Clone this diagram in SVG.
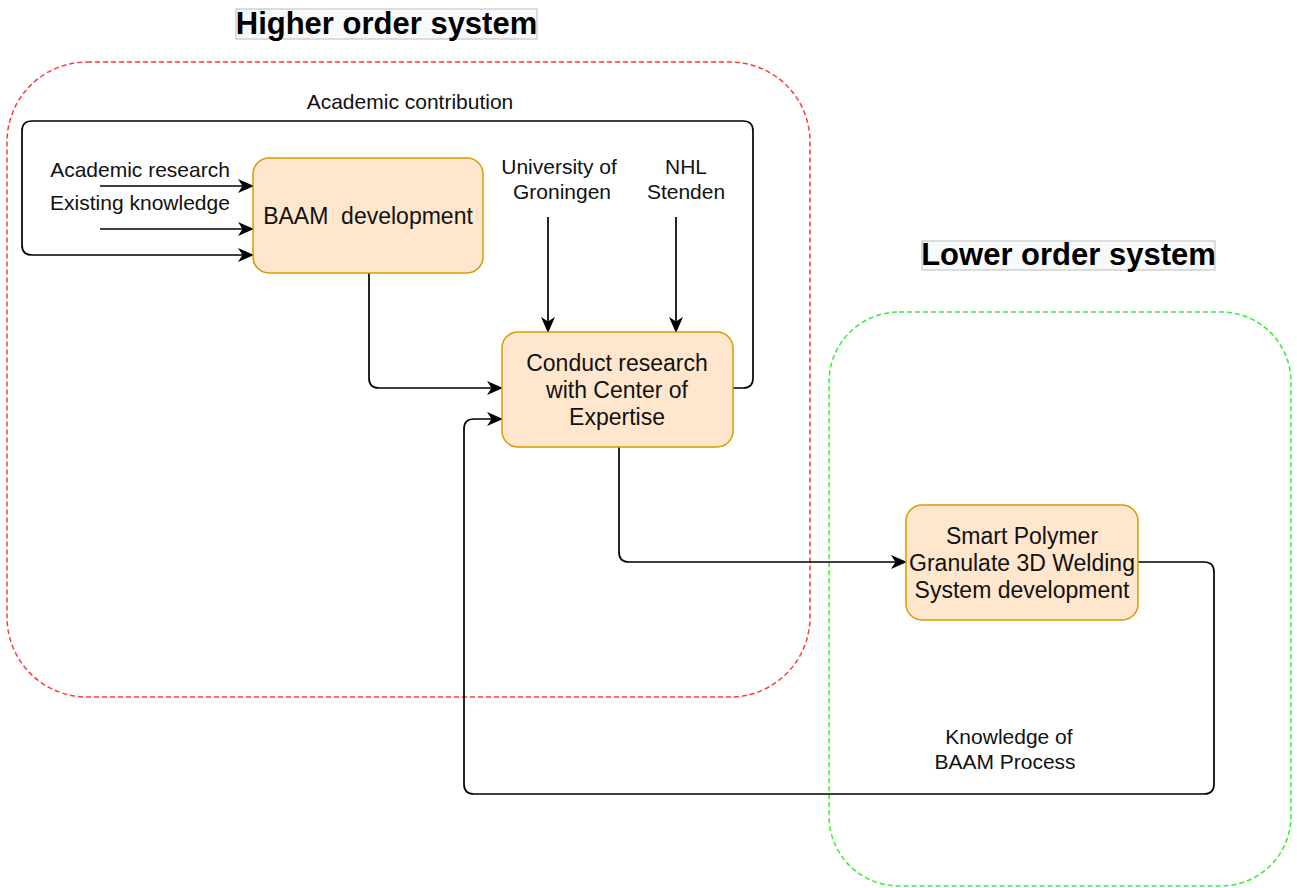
<svg xmlns="http://www.w3.org/2000/svg" width="1297" height="888" viewBox="0 0 1297 888">
  <style>
    .node rect { fill: #ffe6cc; stroke: #d79b00; stroke-width: 1.5; }
    .node text { font-family: "Liberation Sans", Arial, sans-serif; font-size: 23px; fill: #111; text-anchor: middle; }
    .lbl { font-family: "Liberation Sans", Arial, sans-serif; font-size: 21px; fill: #111; text-anchor: middle; }
    .title rect { fill: #f8f9fa; stroke: #bbbbbb; stroke-width: 1; }
    .title text { font-family: "Liberation Sans", Arial, sans-serif; font-size: 31px; font-weight: bold; fill: #000; text-anchor: middle; }
    .edge { fill: none; stroke: #000; stroke-width: 1.7; marker-end: url(#arrow); }
    .boundary { fill: none; stroke-width: 1.5; stroke-dasharray: 5 3; }
  </style>
  <defs>
    <marker id="arrow" viewBox="0 0 16 14" refX="15" refY="7" markerWidth="16" markerHeight="14" markerUnits="userSpaceOnUse" orient="auto">
      <path d="M0,0 L16,7 L0,14 L4.5,7 Z" fill="#000"/>
    </marker>
  </defs>

  <!-- system boundaries -->
  <rect class="boundary" x="7" y="62" width="803" height="635" rx="80" stroke="#ff3b3b"/>
  <rect class="boundary" x="829" y="312" width="462" height="574" rx="70" stroke="#33ee33"/>

  <!-- system titles -->
  <g id="title-higher" class="title">
    <rect x="236" y="9" width="301" height="30"/>
    <text x="386.5" y="34">Higher order system</text>
  </g>
  <g id="title-lower" class="title">
    <rect x="922" y="241" width="293" height="29"/>
    <text x="1068.5" y="265">Lower order system</text>
  </g>

  <!-- connectors -->
  <g id="connectors">
    <path class="edge" d="M733,388 H743 Q753,388 753,378 V131 Q753,121 743,121 H32 Q22,121 22,131 V245 Q22,255 32,255 H253"/>
    <path class="edge" d="M100,186 H253"/>
    <path class="edge" d="M100,229 H253"/>
    <path class="edge" d="M369,273 V378 Q369,388 379,388 H502"/>
    <path class="edge" d="M548,217 V332"/>
    <path class="edge" d="M676,217 V332"/>
    <path class="edge" d="M619,447 V552 Q619,562 629,562 H906"/>
    <path class="edge" d="M1138,562 H1204 Q1214,562 1214,572 V784 Q1214,794 1204,794 H474 Q464,794 464,784 V429 Q464,419 474,419 H502"/>
    <text class="lbl" x="410" y="109">Academic contribution</text>
    <text class="lbl" x="140" y="177">Academic research</text>
    <text class="lbl" x="140" y="210">Existing knowledge</text>
    <text class="lbl" x="559" y="174">University of</text>
    <text class="lbl" x="562" y="199">Groningen</text>
    <text class="lbl" x="686" y="174">NHL</text>
    <text class="lbl" x="686" y="199">Stenden</text>
    <text class="lbl" x="1009" y="744">Knowledge of</text>
    <text class="lbl" x="1005" y="769">BAAM Process</text>
  </g>

  <!-- process nodes -->
  <g id="baam-development" class="node">
    <rect x="253" y="158" width="230" height="115" rx="16"/>
    <text x="368" y="224" xml:space="preserve">BAAM  development</text>
  </g>
  <g id="conduct-research" class="node">
    <rect x="502" y="332" width="231" height="115" rx="16"/>
    <text x="617" y="371">Conduct research</text>
    <text x="617" y="398">with Center of</text>
    <text x="617" y="425">Expertise</text>
  </g>
  <g id="welding-system" class="node">
    <rect x="906" y="505" width="232" height="115" rx="16"/>
    <text x="1022" y="544">Smart Polymer</text>
    <text x="1022" y="571">Granulate 3D Welding</text>
    <text x="1022" y="598">System development</text>
  </g>
</svg>
